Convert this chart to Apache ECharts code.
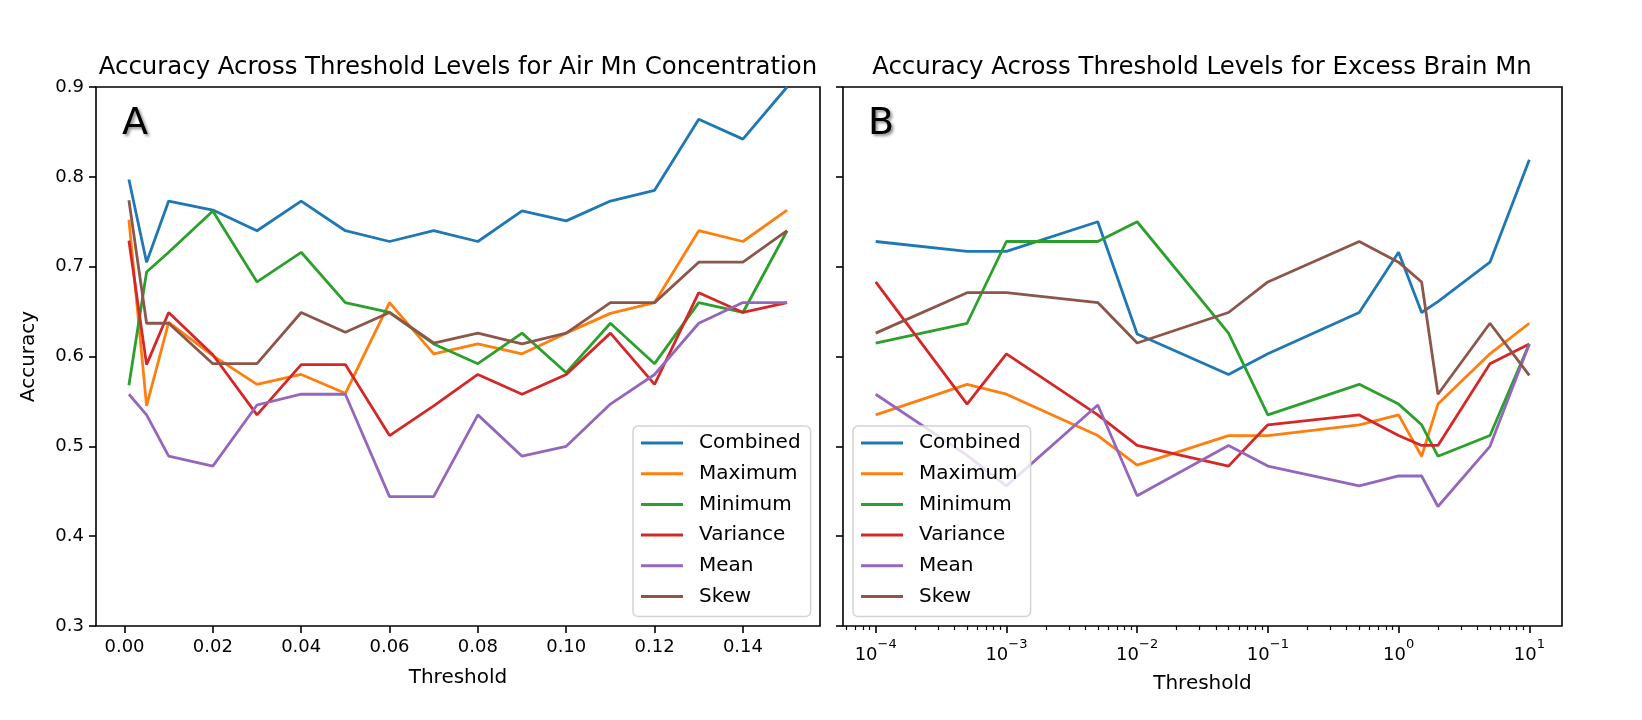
<!DOCTYPE html>
<html><head><meta charset="utf-8">
<script src="https://cdn.jsdelivr.net/npm/echarts@6/dist/echarts.min.js"></script>
<style>html,body{margin:0;padding:0;background:#fff}#c{width:1642px;height:720px}</style>
</head><body><div id="c"></div>
<script>
const seriesNames = ['Combined','Maximum','Minimum','Variance','Mean','Skew'];
const colors = ['#1f77b4','#ff7f0e','#2ca02c','#d62728','#9467bd','#8c564b'];

// Panel A: Air Mn concentration thresholds
const airThresholds = [0.001,0.005,0.01,0.02,0.03,0.04,0.05,0.06,0.07,0.08,0.09,0.10,0.11,0.12,0.13,0.14,0.15];
const airCombined = [0.797,0.705,0.773,0.763,0.740,0.773,0.740,0.728,0.740,0.728,0.762,0.751,0.773,0.785,0.864,0.842,0.900];
const airMaximum  = [0.752,0.545,0.638,0.601,0.569,0.580,0.559,0.660,0.603,0.614,0.603,0.626,0.648,0.660,0.740,0.728,0.763];
const airMinimum  = [0.568,0.694,0.716,0.762,0.683,0.716,0.660,0.649,0.614,0.592,0.626,0.582,0.637,0.592,0.660,0.649,0.740];
const airVariance = [0.729,0.591,0.649,0.602,0.535,0.591,0.591,0.512,0.545,0.580,0.558,0.580,0.626,0.569,0.671,0.649,0.660];
const airMean     = [0.558,0.535,0.489,0.478,0.546,0.558,0.558,0.444,0.444,0.535,0.489,0.500,0.547,0.580,0.637,0.660,0.660];
const airSkew     = [0.774,0.637,0.637,0.592,0.592,0.649,0.627,0.649,0.615,0.626,0.614,0.626,0.660,0.660,0.705,0.705,0.740];

// Panel B: Excess brain Mn thresholds (log scale)
const brainThresholds = [1e-4,5e-4,1e-3,5e-3,1e-2,5e-2,0.1,0.5,1,1.5,2,5,10];
const brainCombined = [0.728,0.717,0.717,0.750,0.625,0.580,0.603,0.649,0.716,0.649,0.661,0.705,0.819];
const brainMaximum  = [0.535,0.569,0.558,0.512,0.479,0.512,0.512,0.524,0.535,0.489,0.547,0.603,0.637];
const brainMinimum  = [0.615,0.637,0.728,0.728,0.750,0.626,0.535,0.569,0.547,0.524,0.489,0.512,0.614];
const brainVariance = [0.683,0.547,0.603,0.535,0.501,0.478,0.524,0.535,0.512,0.501,0.501,0.592,0.614];
const brainMean     = [0.558,0.490,0.456,0.546,0.445,0.501,0.478,0.456,0.467,0.467,0.433,0.500,0.614];
const brainSkew     = [0.626,0.671,0.671,0.660,0.615,0.649,0.683,0.728,0.705,0.683,0.558,0.637,0.579];

// Tick labels
const airTicks = [0, 0.02, 0.04, 0.06, 0.08, 0.10, 0.12, 0.14];
const brainDecades = [-4, -3, -2, -1, 0, 1];
const brainMinorMultipliers = [2,3,4,5,6,7,8,9];

const FONT = 'DejaVu Sans';
const airSeries = [airCombined, airMaximum, airMinimum, airVariance, airMean, airSkew];
const brainSeries = [brainCombined, brainMaximum, brainMinimum, brainVariance, brainMean, brainSkew];

const brainMinorTicks = [];
for (let d = -5; d <= 1; d++) {
  brainMinorMultipliers.forEach(m => {
    const v = d + Math.log10(m);
    if (v > -4.25 && v < 1.25) brainMinorTicks.push(v);
  });
}

const tickStyle = {show: true, length: 7, lineStyle: {color: '#000', width: 1.6}};
const labelStyle = {color: '#000', fontSize: 18, fontFamily: FONT, margin: 12};
const hiddenLine = {show: false, onZero: false};

const series = [];
seriesNames.forEach((name, i) => {
  series.push({
    name, type: 'line', xAxisIndex: 0, yAxisIndex: 0, symbol: 'none', animation: false,
    lineStyle: {color: colors[i], width: 2.8}, itemStyle: {color: colors[i]},
    data: airThresholds.map((t, j) => [t, airSeries[i][j]])
  });
});
seriesNames.forEach((name, i) => {
  series.push({
    name, type: 'line', xAxisIndex: 1, yAxisIndex: 1, symbol: 'none', animation: false,
    lineStyle: {color: colors[i], width: 2.8}, itemStyle: {color: colors[i]},
    data: brainThresholds.map((t, j) => [Math.log10(t), brainSeries[i][j]])
  });
});

const legendBase = {
  data: seriesNames, orient: 'vertical', top: 426, icon: 'rect', itemWidth: 42, itemHeight: 3, itemGap: 10.7,
  padding: [7, 10, 10, 8], backgroundColor: 'rgba(255,255,255,0.8)', borderColor: '#d4d4d4',
  borderWidth: 1.5, borderRadius: 5, selectedMode: false,
  textStyle: {fontSize: 20, fontFamily: FONT, color: '#000', padding: [0, 0, 0, 11], lineHeight: 20}
};

const titleStyle = {fontSize: 24.4, fontWeight: 'normal', fontFamily: FONT, color: '#000'};
const letterStyle = {fontSize: 38, fontWeight: 'normal', fontFamily: FONT, color: '#000',
  textShadowColor: 'rgba(0,0,0,0.45)', textShadowBlur: 3, textShadowOffsetX: 2, textShadowOffsetY: 2};

const option = {
  backgroundColor: '#fff',
  animation: false,
  title: [
    {text: 'Accuracy Across Threshold Levels for Air Mn Concentration', left: 458, top: 56, textAlign: 'center', padding: 0, textStyle: titleStyle},
    {text: 'Accuracy Across Threshold Levels for Excess Brain Mn', left: 1202, top: 56, textAlign: 'center', padding: 0, textStyle: titleStyle},
    {text: 'A', left: 122, top: 105, padding: 0, textStyle: letterStyle},
    {text: 'B', left: 868, top: 105, padding: 0, textStyle: letterStyle}
  ],
  legend: [
    Object.assign({}, legendBase, {left: 633}),
    Object.assign({}, legendBase, {left: 853})
  ],
  grid: [
    {left: 96, top: 87, width: 724, height: 539, show: true, borderColor: '#000', borderWidth: 1.6, backgroundColor: 'transparent'},
    {left: 843, top: 87, width: 719, height: 539, show: true, borderColor: '#000', borderWidth: 1.6, backgroundColor: 'transparent'}
  ],
  xAxis: [
    {type: 'value', gridIndex: 0, position: 'bottom', min: -0.00645, max: 0.15745,
     axisLine: hiddenLine, splitLine: {show: false},
     axisTick: Object.assign({}, tickStyle, {customValues: airTicks}),
     axisLabel: Object.assign({}, labelStyle, {customValues: airTicks, formatter: v => v.toFixed(2)}),
     name: 'Threshold', nameLocation: 'middle', nameGap: 42,
     nameTextStyle: {fontSize: 20, fontFamily: FONT, color: '#000'}},
    {type: 'value', gridIndex: 1, position: 'bottom', min: -4.25, max: 1.25,
     axisLine: hiddenLine, splitLine: {show: false},
     axisTick: Object.assign({}, tickStyle, {customValues: brainDecades}),
     axisLabel: Object.assign({}, labelStyle, {customValues: brainDecades,
       formatter: v => { const e = Math.round(v); return '{b|10}{s|' + (e < 0 ? '\u2212' + (-e) : e) + '}'; },
       rich: {b: {fontSize: 18, fontFamily: FONT, color: '#000', lineHeight: 26, verticalAlign: 'bottom'},
              s: {fontSize: 13, fontFamily: FONT, color: '#000', lineHeight: 26, verticalAlign: 'top'}}}),
     name: 'Threshold', nameLocation: 'middle', nameGap: 48,
     nameTextStyle: {fontSize: 20, fontFamily: FONT, color: '#000'}},
    {type: 'value', gridIndex: 1, position: 'bottom', min: -4.25, max: 1.25,
     axisLine: hiddenLine, splitLine: {show: false}, axisLabel: {show: false},
     axisTick: {show: true, length: 4, lineStyle: {color: '#000', width: 1.2}, customValues: brainMinorTicks}}
  ],
  yAxis: [
    {type: 'value', gridIndex: 0, position: 'left', min: 0.3, max: 0.9, interval: 0.1,
     axisLine: hiddenLine, splitLine: {show: false}, axisTick: tickStyle,
     axisLabel: Object.assign({}, labelStyle, {formatter: v => v.toFixed(1)}),
     name: 'Accuracy', nameLocation: 'middle', nameGap: 57,
     nameTextStyle: {fontSize: 20, fontFamily: FONT, color: '#000'}},
    {type: 'value', gridIndex: 1, position: 'left', min: 0.3, max: 0.9, interval: 0.1,
     axisLine: hiddenLine, splitLine: {show: false}, axisTick: tickStyle,
     axisLabel: {show: false}}
  ],
  series
};

const chart = echarts.init(document.getElementById('c'), null, {renderer: 'canvas'});
chart.setOption(option);
</script>
</body></html>
